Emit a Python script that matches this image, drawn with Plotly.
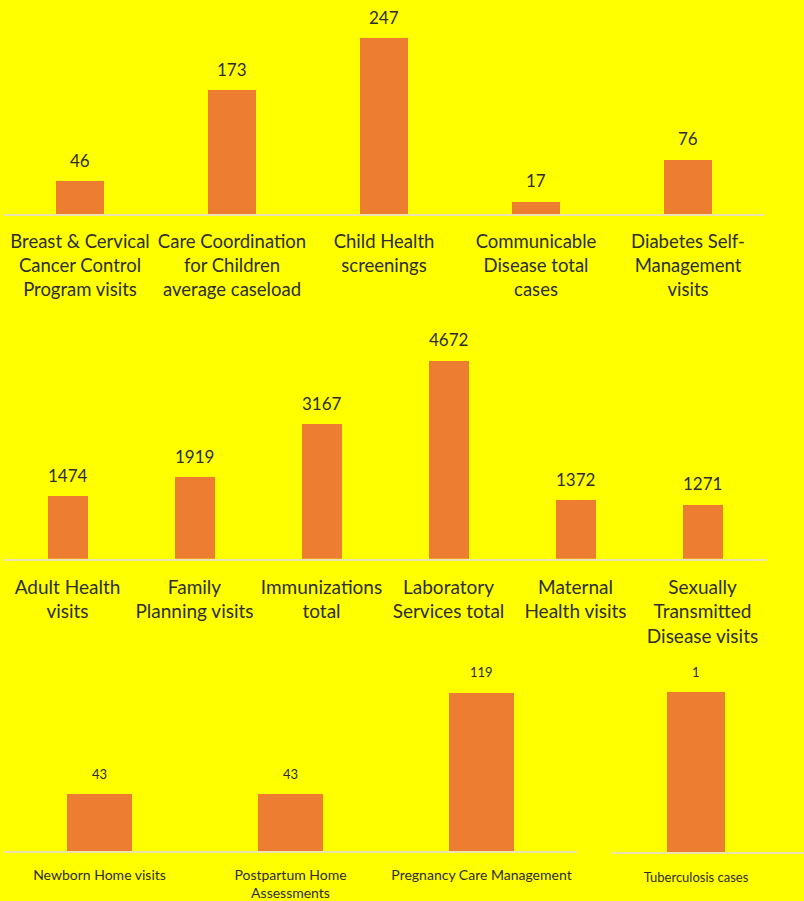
import plotly.graph_objects as go

# ---------------- data ----------------
top_categories = ["Breast & Cervical<br>Cancer Control<br>Program visits",
                  "Care Coordination<br>for Children<br>average caseload",
                  "Child Health<br>screenings",
                  "Communicable<br>Disease total<br>cases",
                  "Diabetes Self-<br>Management<br>visits"]
top_values = [46, 173, 247, 17, 76]

mid_categories = ["Adult Health<br>visits",
                  "Family<br>Planning visits",
                  "Immunizations<br>total",
                  "Laboratory<br>Services total",
                  "Maternal<br>Health visits",
                  "Sexually<br>Transmitted<br>Disease visits"]
mid_values = [1474, 1919, 3167, 4672, 1372, 1271]

bot_categories = ["Newborn Home visits",
                  "Postpartum Home<br>Assessments",
                  "Pregnancy Care Management"]
bot_values = [43, 43, 119]

tb_categories = ["Tuberculosis cases"]
tb_values = [1]

# ---------------- styling ----------------
W, H = 804, 901
BG = "#FFFF00"
BAR = "#ED7D31"
TXT = "#2E2E2E"
LINE = "#EDE3B0"
FONT = "Lato, 'Open Sans', sans-serif"


def px_x(x):
    return x / W


def px_y(y):
    return 1 - y / H


fig = go.Figure()

panels = [
    # (cats, vals, axis suffix, xdom px, baseline px, top px, ymax, bar width,
    #  tick font, value font, value shift, standoff, xrange)
    (top_categories, top_values, "", (4, 764), 216.5, 16.5, 200 * 247 / 178, 0.31, 18.5, 17, 21, 10, None),
    (mid_categories, mid_values, "2", (4, 766), 565, 345, 220 * 4672 / 200, 0.315, 19, 17, 21, 10, None),
    (bot_categories, bot_values, "3", (4, 577), 861, 674, 187 * 119 / 161, 0.34, 14, 13, 20, 10, None),
    (tb_categories, tb_values, "4", (612, 804), 862, 674, 188 * 1 / 163, 0.34, 13, 13, 19, 12, [-0.5, 0.6429]),
]

annotations = []
for cats, vals, sfx, xd, base, top, ymax, bw, tfs, vfs, shift, stand, xr in panels:
    xa = "x" + sfx
    ya = "y" + sfx
    fig.add_trace(go.Bar(
        x=cats, y=vals, xaxis=xa, yaxis=ya,
        marker=dict(color=BAR, line=dict(width=0)),
        width=bw, showlegend=False, hoverinfo="x+y",
    ))
    for c, v in zip(cats, vals):
        annotations.append(dict(
            x=c, y=v, xref=xa, yref=ya, text=str(v), showarrow=False,
            yanchor="middle", yshift=shift,
            font=dict(family=FONT, size=vfs, color=TXT),
        ))
    xkey = "xaxis" + sfx
    ykey = "yaxis" + sfx
    xaxis = dict(
        domain=[px_x(xd[0]), px_x(xd[1])], anchor=ya,
        showgrid=False, zeroline=False, showline=True,
        linecolor=LINE, linewidth=2, ticks="",
        tickfont=dict(family=FONT, size=tfs, color=TXT),
        ticklabelstandoff=stand,
        fixedrange=True, type="category",
    )
    if xr is not None:
        xaxis["range"] = xr
    else:
        xaxis["range"] = [-0.5, len(cats) - 0.5]
    fig.update_layout({
        xkey: xaxis,
        ykey: dict(
            domain=[px_y(base), px_y(top)], anchor=xa,
            range=[0, ymax], visible=False, showgrid=False,
            zeroline=False, fixedrange=True,
        ),
    })

fig.update_layout(
    width=W, height=H,
    margin=dict(l=0, r=0, t=0, b=0),
    paper_bgcolor=BG, plot_bgcolor=BG,
    annotations=annotations,
    bargap=0,
    font=dict(family=FONT, color=TXT),
)

fig.write_html(
    "out.html",
    config={"displayModeBar": False, "responsive": False},
    post_script="document.body.style.margin='0';document.body.style.background='#FFFF00';",
)
